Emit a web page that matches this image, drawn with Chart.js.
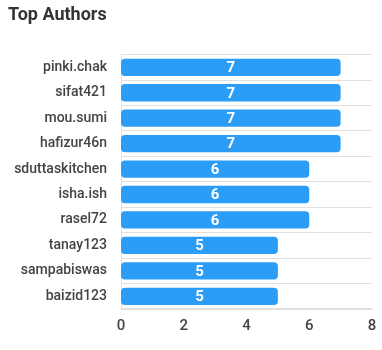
<!DOCTYPE html>
<html>
<head>
<meta charset="utf-8">
<script src="https://cdn.jsdelivr.net/npm/chart.js@4/dist/chart.umd.min.js"></script>
<style>
  html, body { margin: 0; padding: 0; background: #fff; }
  #wrap { width: 382px; height: 350px; }
</style>
</head>
<body>
<div id="wrap"><canvas id="authorsChart"></canvas></div>
<script>
const authors = ['pinki.chak', 'sifat421', 'mou.sumi', 'hafizur46n', 'sduttaskitchen',
  'isha.ish', 'rasel72', 'tanay123', 'sampabiswas', 'baizid123'];
const postCounts = [7, 7, 7, 7, 6, 6, 6, 5, 5, 5];
const xTicks = [0, 2, 4, 6, 8];

// white count drawn in the middle of each bar
const barValues = {
  id: 'barValues',
  afterDatasetsDraw(chart) {
    const ctx = chart.ctx;
    const meta = chart.getDatasetMeta(0);
    ctx.save();
    ctx.fillStyle = '#fff';
    ctx.font = 'bold 15px Roboto';
    ctx.textAlign = 'center';
    ctx.textBaseline = 'middle';
    meta.data.forEach((bar, i) => {
      const mid = (bar.x + bar.base) / 2;
      ctx.fillText(String(postCounts[i]), mid, bar.y + 1);
    });
    ctx.restore();
  }
};

new Chart(document.getElementById('authorsChart'), {
  type: 'bar',
  data: {
    labels: authors,
    datasets: [{
      label: 'Posts',
      data: postCounts,
      backgroundColor: '#2b9df6',
      borderRadius: 4,
      borderSkipped: false,
      barPercentage: 0.68,
      categoryPercentage: 1
    }]
  },
  options: {
    indexAxis: 'y',
    responsive: true,
    maintainAspectRatio: false,
    animation: false,
    layout: { padding: { left: 8, right: 10, top: 0, bottom: 15 } },
    plugins: {
      legend: { display: false },
      tooltip: { enabled: false },
      title: {
        display: true,
        text: 'Top Authors',
        align: 'start',
        color: '#333',
        font: { family: 'Roboto', size: 18, weight: 'bold' },
        padding: { top: 5, bottom: 28 }
      }
    },
    scales: {
      x: {
        min: 0,
        max: 8,
        afterBuildTicks(scale) {
          scale.ticks = xTicks.map(v => ({ value: v }));
        },
        grid: { display: false },
        border: { display: true, color: '#e0e0e0' },
        ticks: {
          color: '#444',
          padding: 0,
          font: { family: 'Roboto', size: 15, weight: '500' }
        }
      },
      y: {
        afterFit(scale) {
          scale.width = 113;
        },
        grid: { color: '#e0e0e0', drawTicks: false, offset: true },
        border: { display: true, color: '#e0e0e0' },
        ticks: {
          color: '#444',
          padding: 14,
          font: { family: 'Roboto', size: 14, weight: '500' }
        }
      }
    }
  },
  plugins: [barValues]
});
</script>
</body>
</html>
